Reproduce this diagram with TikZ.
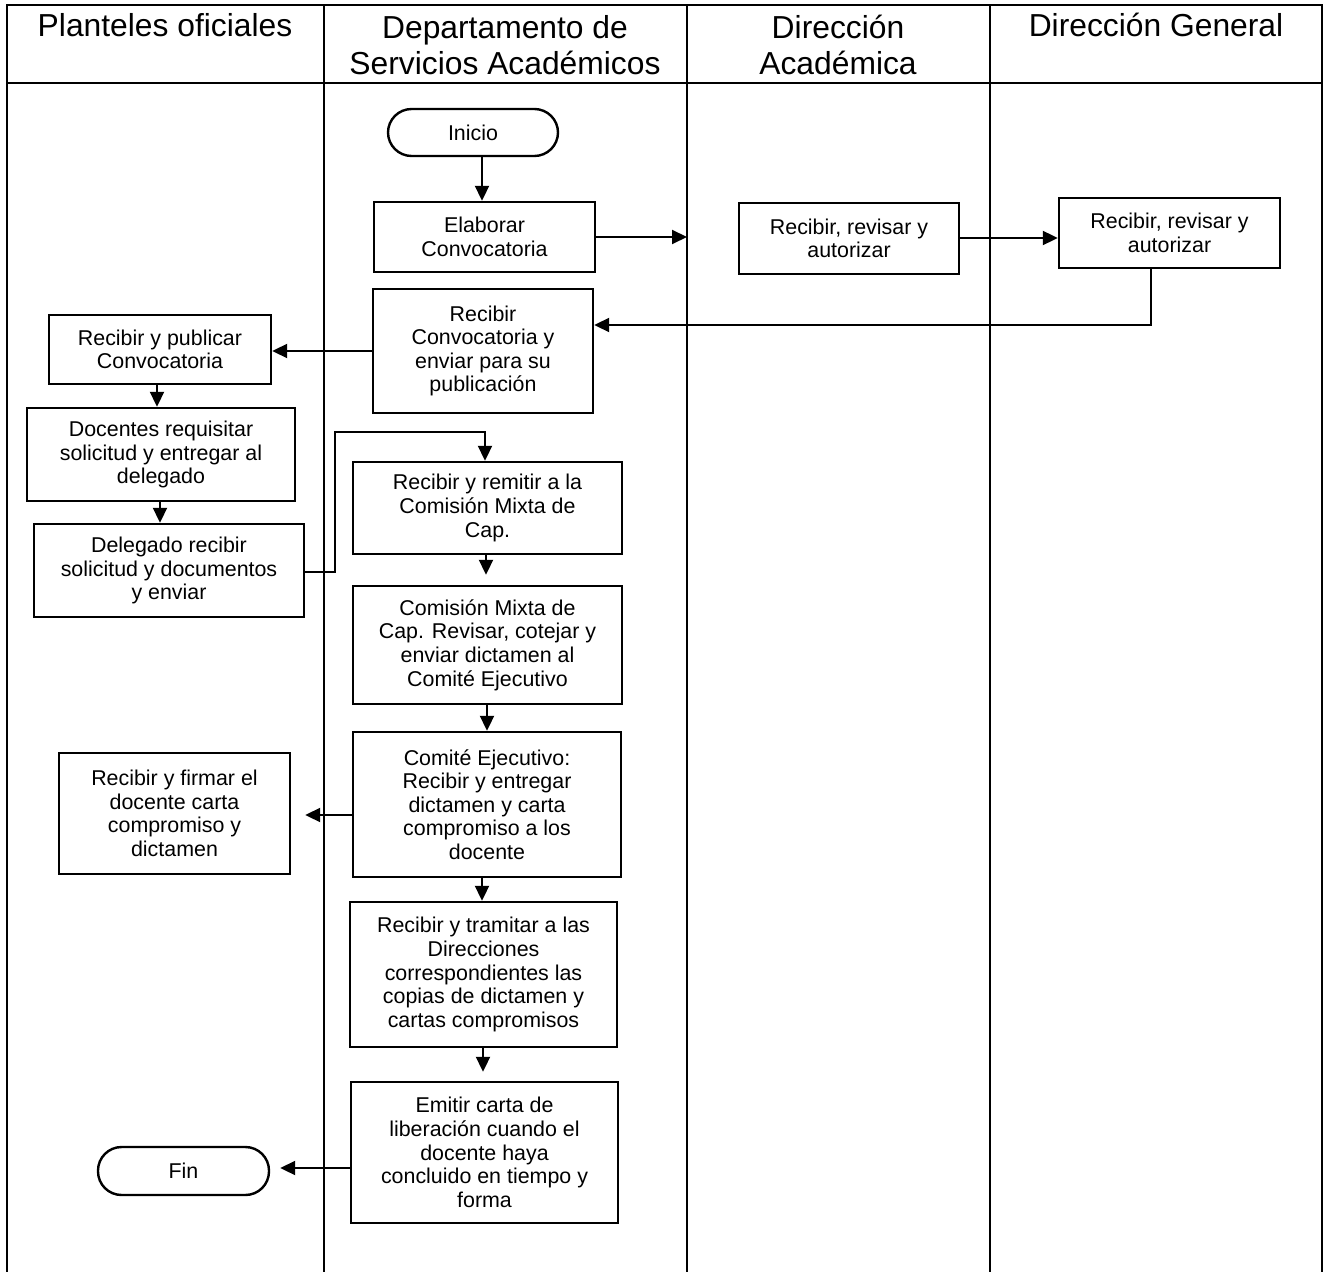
\documentclass[tikz,border=0pt]{standalone}
\usepackage{fontspec}
\setmainfont{Liberation Sans}
\usetikzlibrary{arrows.meta}
\begin{document}
\begin{tikzpicture}[x=0.5pt,y=-0.5pt,
  lane/.style={line width=1pt},
  proc/.style={draw, line width=1.2pt, inner sep=0pt, align=center,
    font=\fontsize{10.7}{11.8}\selectfont},
  term/.style={proc, rounded corners=11.8pt},
  head/.style={align=center, inner sep=0pt, font=\fontsize{15.9}{18}\selectfont},
  arr/.style={line width=1pt, -{Triangle[length=7.5pt,width=7pt]}}
]
\useasboundingbox (0,0) rectangle (1326,1272);

% swimlane frame
\draw[lane] (7,1272) -- (7,5) -- (1322,5) -- (1322,1272);
\draw[lane] (7,83) -- (1322,83);
\draw[lane] (324,5) -- (324,1272);
\draw[lane] (687,5) -- (687,1272);
\draw[lane] (990,5) -- (990,1272);

% lane titles
\node[head, anchor=base] (h1) at (165,37) {Planteles oficiales};
\node[head] (h2) at (505,45) {Departamento de\\Servicios Académicos};
\node[head] (h3) at (838,45) {Dirección\\Académica};
\node[head, anchor=base] (h4) at (1156,37) {Dirección General};

% steps
\node[term, minimum width=85pt, minimum height=23.5pt] (inicio) at (473,132.5) {Inicio};
\node[proc, minimum width=110.5pt, minimum height=35pt] (elab) at (484.5,237) {Elaborar\\Convocatoria};
\node[proc, minimum width=110pt, minimum height=35.5pt] (da) at (849,238.5) {Recibir, revisar y\\autorizar};
\node[proc, minimum width=110.5pt, minimum height=35pt] (dg) at (1169.5,233) {Recibir, revisar y\\autorizar};
\node[proc, minimum width=110pt, minimum height=62pt] (rconv) at (483,351) {Recibir\\Convocatoria y\\enviar para su\\publicación};
\node[proc, minimum width=111pt, minimum height=34.5pt] (rpub) at (160,349.5) {Recibir y publicar\\Convocatoria};
\node[proc, minimum width=134pt, minimum height=46.5pt] (doc) at (161,454.5) {Docentes requisitar\\solicitud y entregar al\\delegado};
\node[proc, minimum width=135pt, minimum height=46.5pt] (del) at (169,570.5) {Delegado recibir\\solicitud y documentos\\y enviar};
\node[proc, minimum width=134.5pt, minimum height=46pt] (rrem) at (487.5,508) {Recibir y remitir a la\\Comisión Mixta de\\Cap.};
\node[proc, minimum width=134.5pt, minimum height=59pt] (com) at (487.5,645) {Comisión Mixta de\\Cap. Revisar, cotejar y\\enviar dictamen al\\Comité Ejecutivo};
\node[proc, minimum width=134pt, minimum height=72.5pt] (cej) at (487,804.5) {Comité Ejecutivo:\\Recibir y entregar\\dictamen y carta\\compromiso a los\\docente};
\node[proc, minimum width=115.5pt, minimum height=60.5pt] (firm) at (174.5,813.5) {Recibir y firmar el\\docente carta\\compromiso y\\dictamen};
\node[proc, minimum width=133.5pt, minimum height=72.5pt] (tram) at (483.5,974.5) {Recibir y tramitar a las\\Direcciones\\correspondientes las\\copias de dictamen y\\cartas compromisos};
\node[proc, minimum width=133.5pt, minimum height=70.5pt] (emit) at (484.5,1152.5) {Emitir carta de\\liberación cuando el\\docente haya\\concluido en tiempo y\\forma};
\node[term, minimum width=85.5pt, minimum height=24pt] (fin) at (183.5,1171) {Fin};

% flow
\draw[arr] (inicio.south -| 482,0) -- (elab.north -| 482,0);
\draw[arr] (elab.east) -- (elab.east -| 687,0);
\draw[arr] (da.east |- 0,238) -- (dg.west |- 0,238);
\draw[arr] (dg.south -| 1151,0) |- (rconv.east |- 0,325);
\draw[arr] (rconv.west |- 0,351) -- (rpub.east |- 0,351);
\draw[arr] (rpub.south -| 157,0) -- (doc.north -| 157,0);
\draw[arr] (doc.south -| 160,0) -- (del.north -| 160,0);
\draw[arr] (del.east |- 0,572) -| (335,432) -| (rrem.north -| 485,0);
\draw[arr, shorten >=5pt] (rrem.south -| 486,0) -- (com.north -| 486,0);
\draw[arr] (com.south -| 487,0) -- (cej.north -| 487,0);
\draw[arr, shorten >=7pt] (cej.west |- 0,815) -- (firm.east |- 0,815);
\draw[arr] (cej.south -| 482,0) -- (tram.north -| 482,0);
\draw[arr, shorten >=4.5pt] (tram.south -| 483,0) -- (emit.north -| 483,0);
\draw[arr, shorten >=5pt] (emit.west |- 0,1168) -- (fin.east |- 0,1168);
\end{tikzpicture}
\end{document}
